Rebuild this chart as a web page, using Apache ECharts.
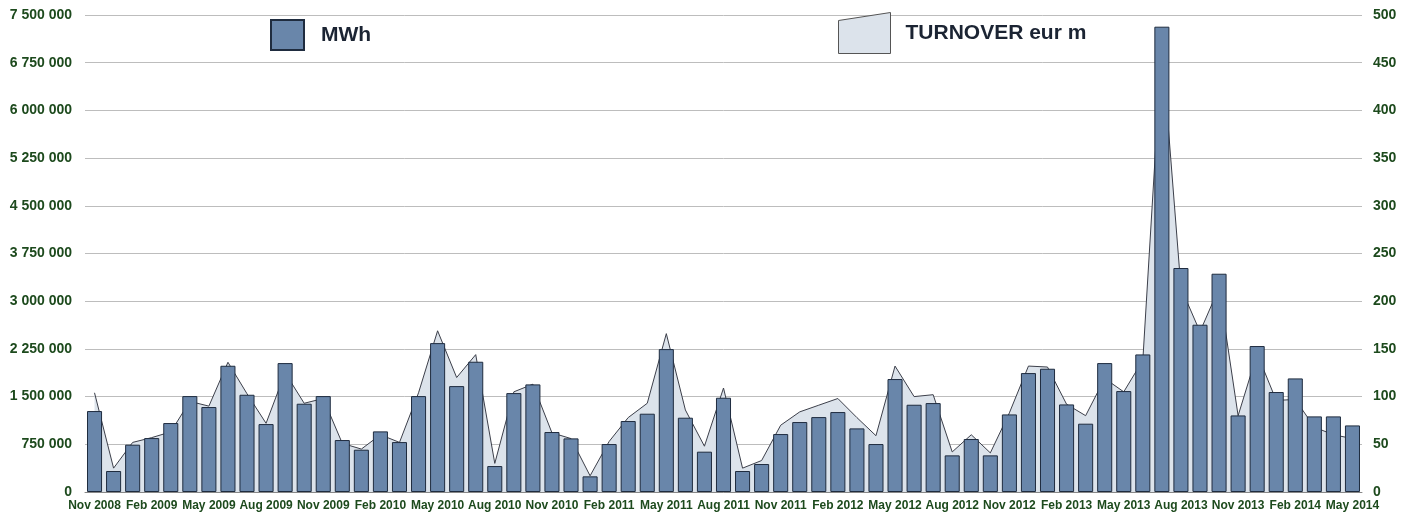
<!DOCTYPE html>
<html>
<head>
<meta charset="utf-8">
<script src="https://cdn.jsdelivr.net/npm/echarts@6/dist/echarts.min.js"></script>
<style>
  html, body { margin: 0; padding: 0; background: #fff; }
  #main { width: 1412px; height: 515px; }
</style>
</head>
<body>
<div id="main"></div>
<script>
// months, Nov 2008 .. May 2014
const months = [
  'Nov 2008', 'Dec 2008',
  'Jan 2009', 'Feb 2009', 'Mar 2009', 'Apr 2009', 'May 2009', 'Jun 2009', 'Jul 2009', 'Aug 2009', 'Sep 2009', 'Oct 2009', 'Nov 2009', 'Dec 2009',
  'Jan 2010', 'Feb 2010', 'Mar 2010', 'Apr 2010', 'May 2010', 'Jun 2010', 'Jul 2010', 'Aug 2010', 'Sep 2010', 'Oct 2010', 'Nov 2010', 'Dec 2010',
  'Jan 2011', 'Feb 2011', 'Mar 2011', 'Apr 2011', 'May 2011', 'Jun 2011', 'Jul 2011', 'Aug 2011', 'Sep 2011', 'Oct 2011', 'Nov 2011', 'Dec 2011',
  'Jan 2012', 'Feb 2012', 'Mar 2012', 'Apr 2012', 'May 2012', 'Jun 2012', 'Jul 2012', 'Aug 2012', 'Sep 2012', 'Oct 2012', 'Nov 2012', 'Dec 2012',
  'Jan 2013', 'Feb 2013', 'Mar 2013', 'Apr 2013', 'May 2013', 'Jun 2013', 'Jul 2013', 'Aug 2013', 'Sep 2013', 'Oct 2013', 'Nov 2013', 'Dec 2013',
  'Jan 2014', 'Feb 2014', 'Mar 2014', 'Apr 2014', 'May 2014'
];

// MWh (left axis)
const mwh = [
  1273000, 330000,
  744000, 848000, 1084000, 1508000, 1336000, 1985000, 1529000, 1068000, 2027000, 1388000, 1508000, 817000,
  665000, 953000, 785000, 1508000, 2341000, 1665000, 2048000, 408000, 1555000, 1692000, 943000, 843000,
  246000, 754000, 1116000, 1231000, 2247000, 1168000, 634000, 1482000, 330000, 440000, 911000, 1100000,
  1178000, 1257000, 1000000, 754000, 1776000, 1372000, 1398000, 576000, 833000, 576000, 1220000, 1870000,
  1938000, 1377000, 1074000, 2027000, 1587000, 2163000, 7316000, 3522000, 2630000, 3432000, 1204000, 2295000,
  1572000, 1786000, 1189000, 1189000, 1047000
];

// turnover, eur m (right axis)
const turnover = [
  104, 25,
  52, 57, 63, 95, 90, 136, 103, 72, 125, 93, 98, 51,
  45, 60, 52, 104, 169, 120, 144, 30, 105, 113, 62, 56,
  17, 53, 78, 93, 166, 86, 48, 109, 25, 33, 70, 84,
  91, 98, 78, 59, 132, 100, 102, 42, 60, 41, 83, 132,
  131, 92, 80, 119, 105, 138, 468, 214, 168, 214, 80, 145,
  96, 97, 68, 60, 56
];

const green = '#1d4a1d';
const font = 'Liberation Sans, Arial, sans-serif';

function spaced(v) {
  return String(v).replace(/\B(?=(\d{3})+(?!\d))/g, ' ');
}

const chart = echarts.init(document.getElementById('main'), null, { renderer: 'canvas' });

const option = {
  animation: false,
  backgroundColor: '#fff',
  grid: { left: 85, right: 50, top: 15, bottom: 23 },
  legend: [
    {
      left: 270, top: 19, padding: 0,
      itemWidth: 33, itemHeight: 30,
      textStyle: { fontFamily: font, fontSize: 21, fontWeight: 'bold', color: '#1b2433', padding: [4, 0, 0, 12] },
      data: [{ name: 'MWh', icon: 'rect' }]
    },
    {
      left: 838, top: 12, padding: 0,
      itemWidth: 52, itemHeight: 41,
      textStyle: { fontFamily: font, fontSize: 21, fontWeight: 'bold', color: '#1b2433', padding: [0, 0, 0, 10] },
      data: [{
        name: 'TURNOVER eur m',
        icon: 'path://M0,8L52,0L52,41L0,41Z',
        itemStyle: { color: '#dce3eb', borderColor: '#555', borderWidth: 1 }
      }]
    }
  ],
  xAxis: {
    type: 'category',
    data: months,
    boundaryGap: true,
    axisLine: { lineStyle: { color: '#888', width: 1 } },
    axisTick: { interval: 2, lineStyle: { color: '#888' }, length: 4 },
    axisLabel: {
      interval: 2,
      margin: 8,
      fontFamily: font, fontSize: 12, fontWeight: 'bold', color: green
    }
  },
  yAxis: [
    {
      type: 'value',
      min: 0, max: 7500000, interval: 750000,
      axisLine: { show: false },
      axisTick: { show: false },
      splitLine: { lineStyle: { color: '#bdbdbd', width: 1 } },
      axisLabel: {
        formatter: spaced,
        margin: 13,
        fontFamily: font, fontSize: 14, fontWeight: 'bold', color: green
      }
    },
    {
      type: 'value',
      min: 0, max: 500, interval: 50,
      position: 'right',
      axisLine: { show: false },
      axisTick: { show: false },
      splitLine: { show: false },
      axisLabel: {
        margin: 11,
        fontFamily: font, fontSize: 14, fontWeight: 'bold', color: green
      }
    }
  ],
  series: [
    {
      name: 'TURNOVER eur m',
      type: 'line',
      yAxisIndex: 1,
      data: turnover,
      z: 1,
      symbol: 'none',
      smooth: false,
      lineStyle: { color: '#3c3f4a', width: 1 },
      itemStyle: { color: '#dce3eb' },
      areaStyle: { color: '#dce3eb', opacity: 1 }
    },
    {
      name: 'MWh',
      type: 'bar',
      yAxisIndex: 0,
      data: mwh,
      z: 3,
      barCategoryGap: '21%',
      itemStyle: { color: '#6986aa', borderColor: '#1f2c3f', borderWidth: 1 }
    }
  ]
};

chart.setOption(option);
</script>
</body>
</html>
